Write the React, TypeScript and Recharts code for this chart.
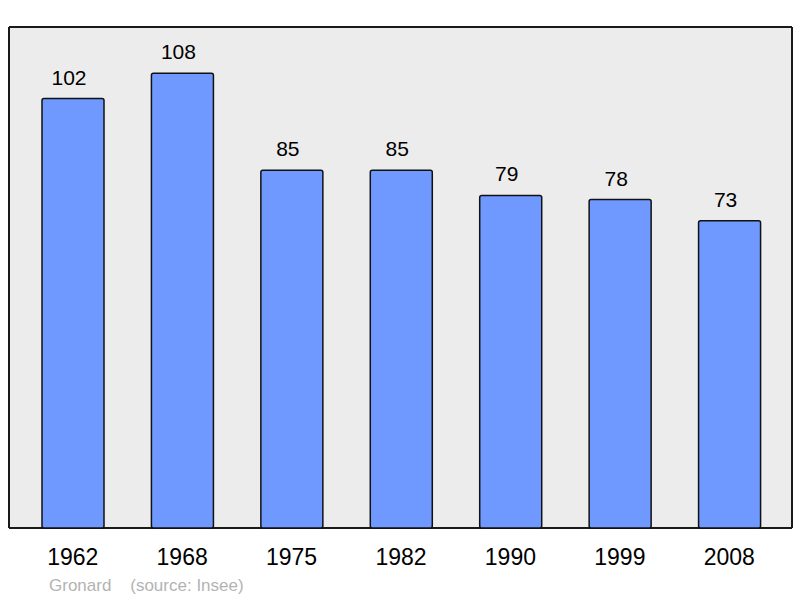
import React from "react";
import { BarChart, Bar, XAxis, YAxis, CartesianGrid, LabelList } from "recharts";

const years = ["1962", "1968", "1975", "1982", "1990", "1999", "2008"];
const population = [102, 108, 85, 85, 79, 78, 73];
const yDomain: [number, number] = [0, 119];
const footerAuthor = "Gronard";
const footerSource = "(source: Insee)";

const data = years.map((year, i) => ({ year, value: population[i] }));

const FONT = "'Liberation Sans', Arial, sans-serif";

export default function App() {
  return (
    <div style={{ position: "absolute", left: 0, top: 0, width: 800, height: 598, background: "#fff" }}>
      <BarChart
        width={800}
        height={598}
        data={data}
        margin={{ top: 27, right: 8, left: 9, bottom: 10 }}
        style={{ fontFamily: FONT }}
      >
        <CartesianGrid
          fill="#ececec"
          stroke="#1a1a1a"
          strokeWidth={2}
          horizontalCoordinatesGenerator={({ offset }: any) => [offset.top, offset.top + offset.height]}
          verticalCoordinatesGenerator={({ offset }: any) => [offset.left, offset.left + offset.width]}
        />
        <XAxis
          dataKey="year"
          height={60}
          axisLine={false}
          tickLine={false}
          tickSize={6}
          tickMargin={15}
          interval={0}
          padding={{ left: 9, right: 8 }}
          tick={{ fill: "#000", fontSize: 23, fontFamily: FONT }}
        />
        <YAxis hide domain={yDomain} />
        <Bar
          dataKey="value"
          fill="#7099ff"
          stroke="#111"
          strokeWidth={1.5}
          barSize={62}
          radius={2}
          isAnimationActive={false}
        >
          <LabelList
            dataKey="value"
            position="top"
            offset={14}
            dx={-4}
            fill="#000"
            fontSize={21}
            fontFamily={FONT}
          />
        </Bar>
      </BarChart>
      <div
        style={{
          position: "absolute",
          left: 49,
          top: 577,
          fontFamily: FONT,
          fontSize: 17,
          lineHeight: "17px",
          color: "#b3b3b3",
          whiteSpace: "pre",
        }}
      >
        {footerAuthor + "    " + footerSource}
      </div>
    </div>
  );
}
